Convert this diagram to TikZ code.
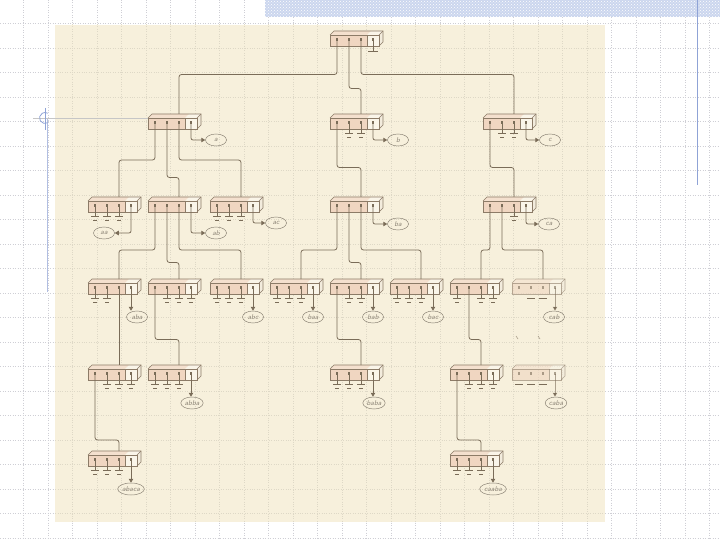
\documentclass[tikz,border=0pt]{standalone}
\usetikzlibrary{arrows.meta,shapes.geometric,patterns}
\definecolor{bgc}{HTML}{F7F0DC}
\definecolor{pinkc}{HTML}{F0D6C1}
\definecolor{pinktop}{HTML}{F4E0CE}
\definecolor{cellc}{HTML}{FAF5E9}
\definecolor{sidec}{HTML}{F3ECDD}
\definecolor{lc}{HTML}{7A6C58}
\definecolor{boxc}{HTML}{8C7B67}
\definecolor{labc}{HTML}{8D8577}
\definecolor{bluec}{HTML}{8FA3D6}
\definecolor{bandc}{HTML}{CBD6EE}
\definecolor{gridc}{HTML}{CFCFD5}
\tikzset{
  ln/.style={draw=lc, line width=0.8pt},
  boxl/.style={draw=boxc, line width=0.6pt},
  arr/.style={-{Triangle[length=4pt,width=4.5pt]}},
  lab/.style={ellipse, draw=labc, line width=0.5pt, inner sep=0.5pt, minimum height=12pt, minimum width=21pt,
    font=\sffamily\itshape\fontsize{7}{8}\selectfont, text=labc},
}
% trie record: #1 name, #2 x, #3 y of front face top
\newcommand{\tnode}[3]{%
  \begin{scope}[shift={(#2,#3)}]
    \fill[pinktop] (0,0) -- (4,-4) -- (41,-4) -- (37,0) -- cycle;
    \fill[cellc] (37,0) -- (41,-4) -- (53,-4) -- (49,0) -- cycle;
    \fill[pinkc] (0,0) rectangle (37,11);
    \fill[cellc] (37,0) rectangle (49,11);
    \fill[sidec] (49,0) -- (53,-4) -- (53,7) -- (49,11) -- cycle;
    \draw[boxl] (0,0) rectangle (49,11);
    \draw[boxl] (0,0) -- (4,-4) -- (53,-4) -- (53,7) -- (49,11);
    \draw[boxl] (49,0) -- (53,-4);
    \draw[boxl] (37,0) -- (37,11);
  \end{scope}
  \coordinate (#1-1) at (#2+7,#3+4.5);
  \coordinate (#1-2) at (#2+19,#3+4.5);
  \coordinate (#1-3) at (#2+31,#3+4.5);
  \coordinate (#1-4) at (#2+43,#3+4.5);
  \coordinate (#1-in) at (#2+31,#3-4);
  \foreach \k in {1,2,3,4}{\fill[lc] ([shift={(-1.4,-1.4)}]#1-\k) rectangle ([shift={(1.4,1.4)}]#1-\k);}
}
\newcommand{\gnd}[1]{\draw[ln] (#1) -- ++(0,11) ++(-4,0) -- ++(8,0) ++(-6,4) -- ++(4,0);}
\newcommand{\bars}[1]{\draw[ln] (#1) ++(-4,11) -- ++(8,0);}
\newcommand{\edge}[3]{\draw[ln,rounded corners=2.5pt] (#1) -- ++(0,#3) -| (#2);}
\begin{document}
\begin{tikzpicture}[x=1pt,y=-1pt]
\useasboundingbox (0,0) rectangle (720,540);
\fill[white] (0,0) rectangle (720,540);
% page grid
\foreach \i in {0,...,29}{\draw[gridc,dotted,line width=0.5pt] (-1+24.5*\i,0) -- ++(0,540);}
\foreach \j in {0,...,22}{\draw[gridc,dotted,line width=0.5pt] (0,-1+24.5*\j) -- ++(720,0);}
\fill[bandc] (265,0) rectangle (720,17);
\fill[pattern=crosshatch dots, pattern color=white] (265,0) rectangle (720,17);
\draw[bluec,line width=1pt] (697,0) -- (697,185);
% panel
\fill[bgc] (55,25) rectangle (605,522);
\begin{scope}
\clip (55,25) rectangle (605,522);
\foreach \i in {0,...,29}{\draw[bgc!90!black,dotted,line width=0.4pt] (-1+24.5*\i,0) -- ++(0,540);}
\foreach \j in {0,...,22}{\draw[bgc!90!black,dotted,line width=0.4pt] (0,-1+24.5*\j) -- ++(720,0);}
\end{scope}
% left marker
\draw[bluec!70,line width=1pt] (47,118) -- (47,292);
\draw[gray!45,line width=0.6pt] (33,118) -- (180,118);
\draw[bluec,line width=0.8pt] (45,108) -- (45,130);
\draw[bluec,line width=0.8pt] ([shift={(60:5.5)}]45,118) arc (60:300:5.5);

% ---- nodes ----
\tnode{root}{330}{35}
\tnode{a}{148}{118}
\tnode{b}{330}{118}
\tnode{c}{483}{118}
\tnode{aa}{88}{201}
\tnode{ab}{148}{201}
\tnode{ac}{210}{201}
\tnode{ba}{330}{201}
\tnode{ca}{483}{201}
\tnode{aba}{88}{283}
\tnode{abb}{148}{283}
\tnode{abc}{210}{283}
\tnode{baa}{270}{283}
\tnode{bab}{330}{283}
\tnode{bac}{390}{283}
\tnode{caa}{450}{283}
\begin{scope}[opacity=0.6]
\tnode{cab}{512}{283}
\end{scope}
\tnode{abac}{88}{369}
\tnode{abba}{148}{369}
\tnode{baba}{330}{369}
\tnode{caab}{450}{369}
\begin{scope}[opacity=0.6]
\tnode{caba}{512}{369}
\end{scope}
\tnode{abaca}{88}{455}
\tnode{caaba}{450}{455}

% ---- child pointers ----
\edge{root-1}{a-in}{35}
\edge{root-2}{b-in}{49}
\edge{root-3}{c-in}{35}
\edge{a-1}{aa-in}{37.5}
\edge{a-2}{ab-in}{55}
\edge{a-3}{ac-in}{37.5}
\edge{b-1}{ba-in}{45}
\edge{c-1}{ca-in}{45}
\edge{ab-1}{aba-in}{44.5}
\edge{ab-2}{abb-in}{57}
\edge{ab-3}{abc-in}{44.5}
\edge{ba-1}{baa-in}{44.5}
\edge{ba-2}{bab-in}{57}
\edge{ba-3}{bac-in}{44.5}
\edge{ca-1}{caa-in}{44.5}
\edge{ca-2}{cab-in}{44.5}
\draw[ln] (aba-3) -- (abac-in);
\edge{abb-1}{abba-in}{52}
\edge{bab-1}{baba-in}{52}
\edge{caa-2}{caab-in}{52}
\edge{abac-1}{abaca-in}{66.5}
\edge{caab-1}{caaba-in}{66.5}

% ---- null pointers ----
\draw[ln] (root-4) -- ++(0,12) ++(-5,0) -- ++(10,0);
\gnd{b-2}\gnd{b-3}
\gnd{c-2}\gnd{c-3}
\gnd{aa-1}\gnd{aa-2}\gnd{aa-3}
\gnd{ac-1}\gnd{ac-2}\gnd{ac-3}
\gnd{ca-3}
\gnd{aba-1}\gnd{aba-2}
\gnd{abb-2}\gnd{abb-3}\gnd{abb-4}
\gnd{abc-1}\gnd{abc-2}\gnd{abc-3}
\gnd{baa-1}\gnd{baa-2}\gnd{baa-3}
\gnd{bab-2}\gnd{bab-3}
\gnd{bac-1}\gnd{bac-2}\gnd{bac-3}
\gnd{caa-1}\gnd{caa-3}\gnd{caa-4}
\bars{cab-2}\bars{cab-3}
\gnd{abac-2}\gnd{abac-3}\gnd{abac-4}
\gnd{abba-1}\gnd{abba-2}\gnd{abba-3}
\gnd{baba-1}\gnd{baba-2}\gnd{baba-3}
\gnd{caab-2}\gnd{caab-3}\gnd{caab-4}
\bars{caba-1}\bars{caba-2}\bars{caba-3}
\gnd{abaca-1}\gnd{abaca-2}\gnd{abaca-3}
\gnd{caaba-1}\gnd{caaba-2}\gnd{caaba-3}
% faint ticks below cab
\draw[ln,draw opacity=0.6,line width=0.6pt] (516,336) -- (518,339);
\draw[ln,draw opacity=0.6,line width=0.6pt] (538,336) -- (540,339);

% ---- values ----
\node[lab] (v-a) at (216,140) {a};
\node[lab] (v-b) at (398,140) {b};
\node[lab] (v-c) at (550,140) {c};
\node[lab] (v-aa) at (104,233) {aa};
\node[lab] (v-ab) at (216,233) {ab};
\node[lab] (v-ac) at (276,223) {ac};
\node[lab] (v-ba) at (398,224) {ba};
\node[lab] (v-ca) at (549,224) {ca};
\draw[ln,arr,rounded corners=2pt] (a-4) |- (v-a.west);
\draw[ln,arr,rounded corners=2pt] (b-4) |- (v-b.west);
\draw[ln,arr,rounded corners=2pt] (c-4) |- (v-c.west);
\draw[ln,arr,rounded corners=2pt] (aa-4) |- (v-aa.east);
\draw[ln,arr,rounded corners=2pt] (ab-4) |- (v-ab.west);
\draw[ln,arr,rounded corners=2pt] (ac-4) |- (v-ac.west);
\draw[ln,arr,rounded corners=2pt] (ba-4) |- (v-ba.west);
\draw[ln,arr,rounded corners=2pt] (ca-4) |- (v-ca.west);

\node[lab] (v-aba) at (137,317) {aba};
\node[lab] (v-abc) at (253,317) {abc};
\node[lab] (v-baa) at (313,317) {baa};
\node[lab] (v-bab) at (373,317) {bab};
\node[lab] (v-bac) at (433,317) {bac};
\node[lab] (v-cab) at (554,317) {cab};
\node[lab] (v-abba) at (192,403) {abba};
\node[lab] (v-baba) at (374,403) {baba};
\node[lab] (v-caba) at (556,403) {caba};
\node[lab] (v-abaca) at (131,489) {abaca};
\node[lab] (v-caaba) at (493,489) {caaba};
\foreach \n in {aba,abc,baa,bab,bac,abba,baba,abaca,caaba}{\draw[ln,arr] (\n-4) -- (\n-4 |- v-\n.north);}
\draw[ln,arr,draw opacity=0.6] (cab-4) -- (cab-4 |- v-cab.north);
\draw[ln,arr,draw opacity=0.6] (caba-4) -- (caba-4 |- v-caba.north);
\end{tikzpicture}
\end{document}
